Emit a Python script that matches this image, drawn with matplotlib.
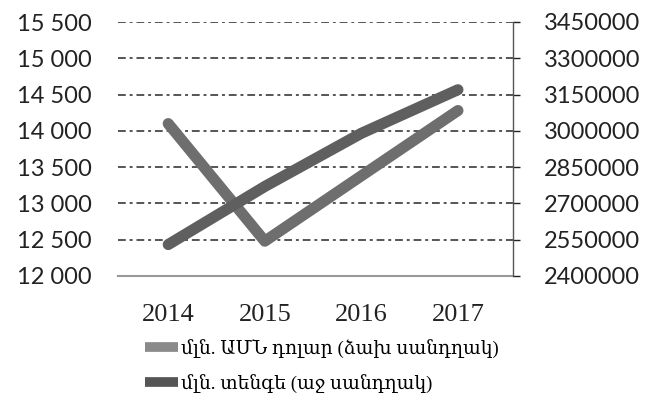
import matplotlib
matplotlib.use("Agg")
import matplotlib.pyplot as plt
from matplotlib.lines import Line2D

years = ["2014", "2015", "2016", "2017"]
usd = [14100, 12480, 13380, 14280]            # left axis
tenge = [2530000, 2770000, 2990000, 3170000]  # right axis
left_ticks = [12000, 12500, 13000, 13500, 14000, 14500, 15000, 15500]
right_ticks = [2400000, 2550000, 2700000, 2850000, 3000000, 3150000, 3300000, 3450000]
labels = ["մլն. ԱՄՆ դոլար (ձախ սանդղակ)", "մլն. տենգե (աջ սանդղակ)"]

fig = plt.figure(figsize=(6.56, 4.0), dpi=100)
ax = fig.add_axes([118/656, 1-276/400, (513-118)/656, (276-22)/400])
ax2 = ax.twinx()

x = range(len(years))
ax.plot(x, usd, color="#6e6e6e", lw=8, solid_capstyle="round", zorder=3)
ax2.plot(x, tenge, color="#5f5f5f", lw=8, solid_capstyle="round", zorder=3)

ax.set_xlim(-0.52, 3.57)
ax.set_ylim(12000, 15500)
ax2.set_ylim(2400000, 3450000)

for t in left_ticks[1:]:
    ax.axhline(t, color="#555555", lw=1.4, ls=(0, (4, 2, 1.5, 2)), zorder=1)

for s in ["top", "left", "right"]:
    ax.spines[s].set_visible(False)
ax.spines["bottom"].set_color("#999999")
ax.spines["bottom"].set_linewidth(1.5)
for s in ["top", "left", "bottom"]:
    ax2.spines[s].set_visible(False)
ax2.spines["right"].set_color("#555555")
ax2.spines["right"].set_linewidth(1.0)

ax.set_xticks(list(x))
ax.set_xticklabels(years, fontfamily="Liberation Serif", fontsize=19)
ax.set_yticks(left_ticks)
ax.set_yticklabels([f"{v:,}".replace(",", " ") for v in left_ticks], fontfamily="Lato", fontsize=17)
ax.tick_params(axis="x", length=0, pad=20, colors="#222222")
ax.tick_params(axis="y", length=0, pad=19, colors="#222222")

ax2.set_yticks(right_ticks)
ax2.set_yticklabels([str(v) for v in right_ticks], fontfamily="Lato", fontsize=17)
ax2.tick_params(axis="y", length=5, width=1, pad=17, colors="#222222", direction="out")

handles = [Line2D([0], [0], color="#8a8a8a", lw=7, solid_capstyle="butt"),
           Line2D([0], [0], color="#555555", lw=7, solid_capstyle="butt")]
fig.legend(handles, labels, loc="upper left", bbox_to_anchor=(128/656, 1-322/400),
           frameon=False, handlelength=1.75, handletextpad=0.2, labelspacing=0.85,
           prop={"family": ["Liberation Serif", "DejaVu Serif"], "size": 13.5})

fig.savefig("out.png", dpi=100)
